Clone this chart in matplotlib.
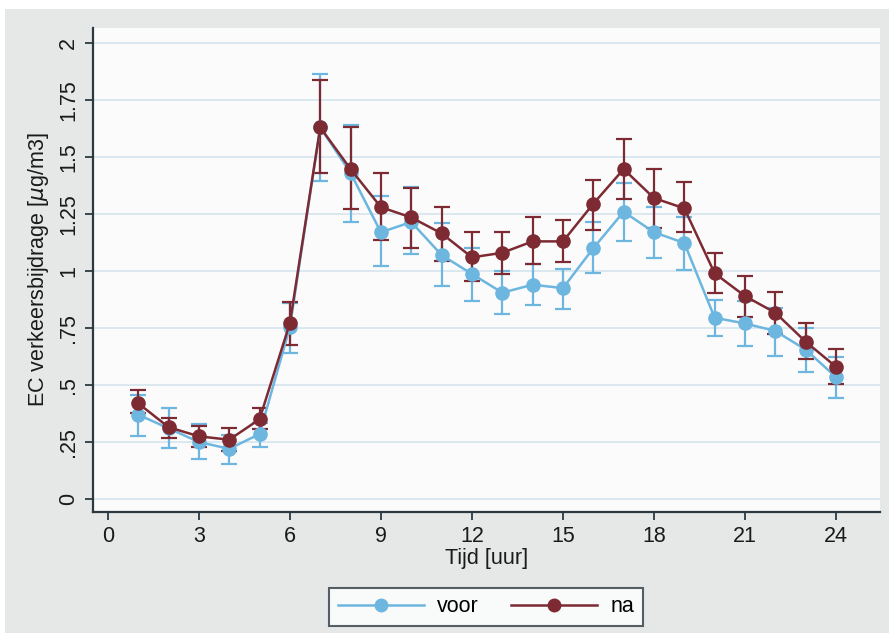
import numpy as np
import matplotlib
matplotlib.use('Agg')
import matplotlib.pyplot as plt
from matplotlib.patches import Rectangle

plt.rcParams['font.family'] = ['Liberation Sans', 'DejaVu Sans']

hours = list(range(1, 25))

# voor (blue)
voor = [0.37, 0.31, 0.25, 0.22, 0.285, 0.755, 1.63, 1.43, 1.17, 1.215, 1.07, 0.987,
        0.905, 0.94, 0.925, 1.10, 1.26, 1.17, 1.123, 0.795, 0.77, 0.737, 0.655, 0.535]
voor_lo = [0.276, 0.225, 0.175, 0.155, 0.23, 0.64, 1.395, 1.215, 1.02, 1.075, 0.935, 0.87,
           0.81, 0.85, 0.835, 0.99, 1.13, 1.057, 1.005, 0.715, 0.67, 0.627, 0.557, 0.443]
voor_hi = [0.456, 0.40, 0.33, 0.28, 0.335, 0.86, 1.864, 1.64, 1.33, 1.37, 1.21, 1.10,
           1.0, 1.03, 1.01, 1.215, 1.385, 1.283, 1.235, 0.873, 0.87, 0.84, 0.75, 0.623]

# na (red)
na = [0.42, 0.315, 0.275, 0.26, 0.35, 0.772, 1.63, 1.447, 1.28, 1.235, 1.165, 1.06,
      1.08, 1.13, 1.13, 1.295, 1.447, 1.32, 1.275, 0.99, 0.89, 0.817, 0.69, 0.58]
na_lo = [0.377, 0.267, 0.23, 0.21, 0.305, 0.675, 1.43, 1.27, 1.135, 1.10, 1.045, 0.955,
         0.987, 1.03, 1.04, 1.18, 1.315, 1.19, 1.17, 0.905, 0.80, 0.722, 0.613, 0.504]
na_hi = [0.48, 0.355, 0.32, 0.31, 0.40, 0.865, 1.838, 1.63, 1.43, 1.365, 1.28, 1.17,
         1.17, 1.235, 1.225, 1.40, 1.58, 1.447, 1.39, 1.08, 0.98, 0.91, 0.772, 0.658]

xticks = list(range(0, 25, 3))
yticks = [0, 0.25, 0.5, 0.75, 1, 1.25, 1.5, 1.75, 2]
ytick_labels = ['0', '.25', '.5', '.75', '1', '1.25', '1.5', '1.75', '2']

BLUE = '#6cb6df'
RED = '#7d2a33'
AXC = '#2d3940'
W, H = 889, 633
FS = 15.5

fig = plt.figure(figsize=(W / 100, H / 100), dpi=100, facecolor='white')
fig.patches.append(Rectangle((5 / W, 0), 1, 1 - 9 / H, transform=fig.transFigure,
                             facecolor='#e5e8e7', edgecolor='none', zorder=-10))

ax = fig.add_axes([93 / W, 1 - 512 / H, (880 - 93) / W, (512 - 28) / H])
ax.set_facecolor('#fbfbfb')

for y in yticks:
    ax.axhline(y, color='#d8e7ee', lw=1.3, zorder=0)


def draw(vals, lo, hi, color, label):
    vals = np.array(vals)
    err = [vals - np.array(lo), np.array(hi) - vals]
    ax.errorbar(hours, vals, yerr=err, fmt='none', ecolor=color, elinewidth=1.6,
                capsize=6, capthick=1.6, zorder=2)
    ax.plot(hours, vals, '-o', color=color, lw=1.8, ms=9.5, label=label, zorder=3)


draw(voor, voor_lo, voor_hi, BLUE, 'voor')
draw(na, na_lo, na_hi, RED, 'na')

ax.set_xlim(-0.49, 25.45)
ax.set_ylim(-0.057, 2.066)
ax.set_xticks(xticks)
ax.set_yticks(yticks)
ax.set_yticklabels(ytick_labels, rotation=90, va='center')
ax.tick_params(axis='both', labelsize=FS, colors=AXC, length=6, width=1.3, pad=4)
ax.tick_params(axis='both', labelcolor='#1a1a1a')
for s in ['top', 'right']:
    ax.spines[s].set_visible(False)
for s in ['left', 'bottom']:
    ax.spines[s].set_color(AXC)
    ax.spines[s].set_linewidth(1.6)

ax.set_xlabel('Tijd [uur]', fontsize=FS, color='#1a1a1a', labelpad=1)
ax.set_ylabel('EC verkeersbijdrage [$\\mu$g/m3]', fontsize=FS, color='#1a1a1a', labelpad=5)

leg = fig.legend(loc='center', bbox_to_anchor=(486 / W, 1 - 607 / H), ncol=2,
                 fontsize=FS, handlelength=4.0, columnspacing=1.5, frameon=True,
                 fancybox=False, edgecolor=AXC, borderpad=0.4, handletextpad=0.6,
                 borderaxespad=0)
leg.get_frame().set_linewidth(1.5)
leg.get_frame().set_facecolor('white')
for h in leg.legend_handles:
    h.set_markersize(9)

fig.savefig('out.png', dpi=100, facecolor=fig.get_facecolor())
